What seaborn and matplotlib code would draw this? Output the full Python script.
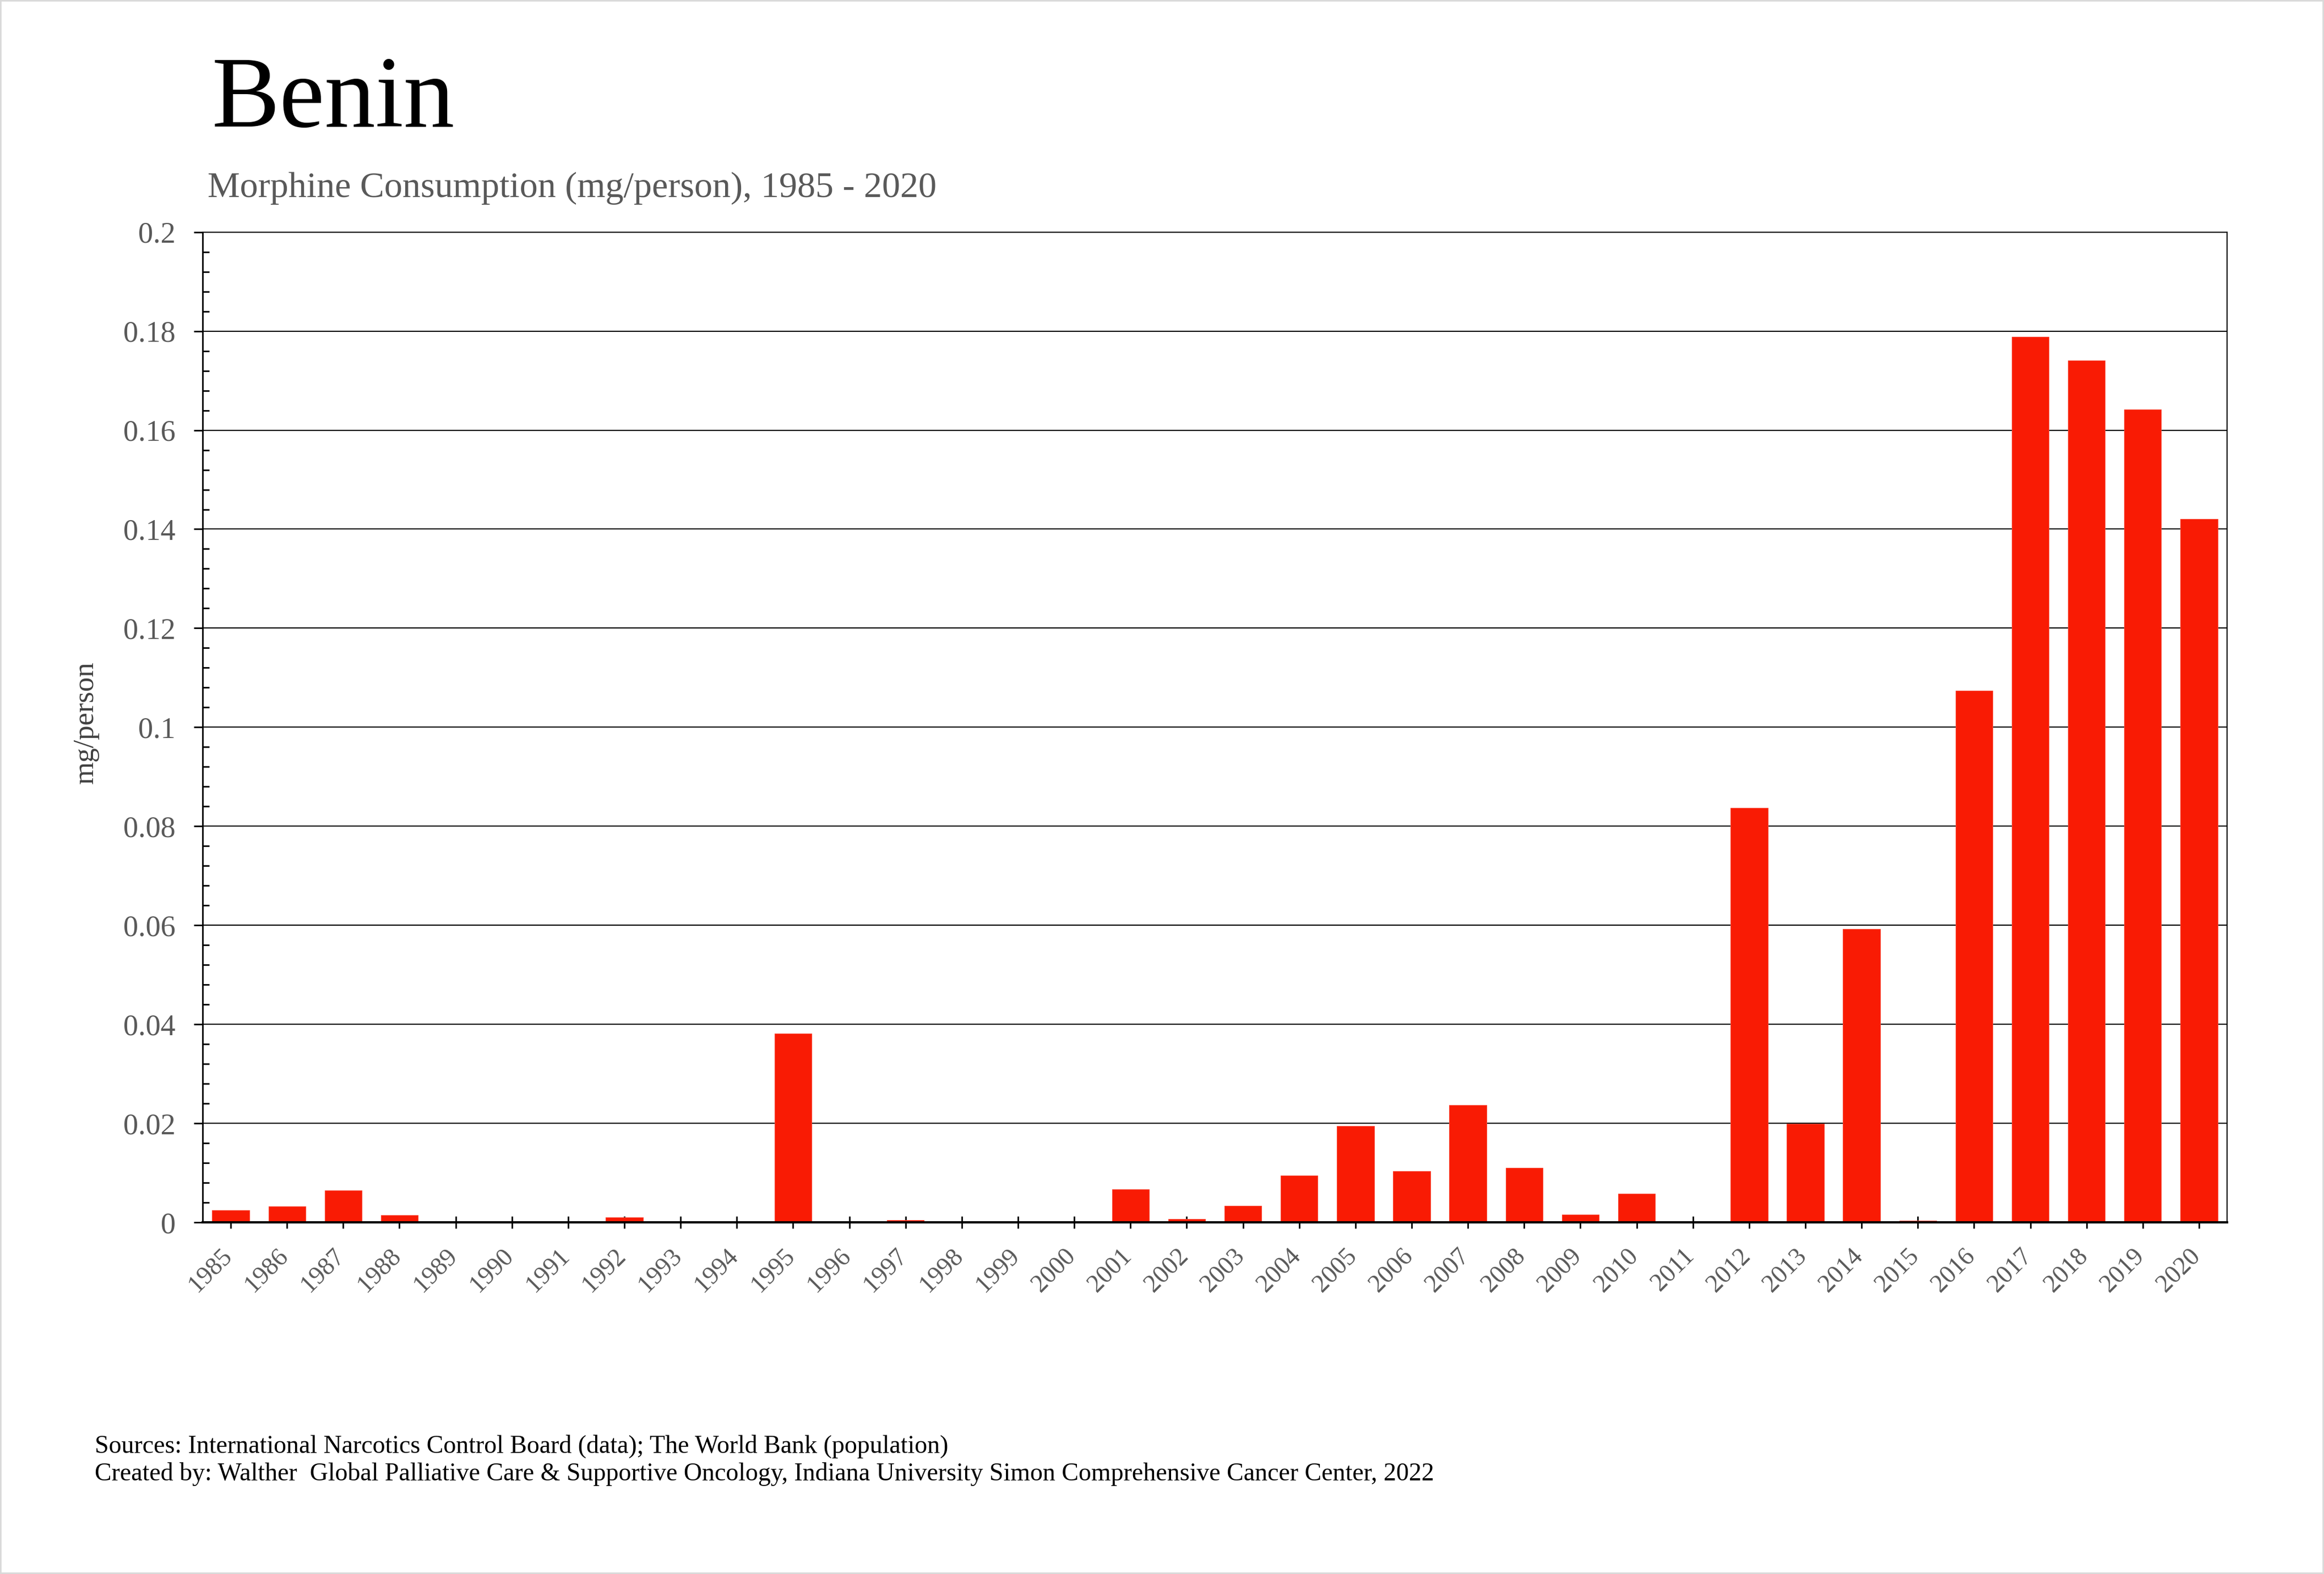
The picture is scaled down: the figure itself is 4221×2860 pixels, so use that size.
import matplotlib
matplotlib.use("Agg")
import matplotlib.pyplot as plt
import seaborn as sns
import pandas as pd
from matplotlib.ticker import AutoMinorLocator, FuncFormatter
from matplotlib.patches import Rectangle
from matplotlib.transforms import ScaledTranslation

years = [str(y) for y in range(1985, 2021)]
values = [0.0025, 0.0032, 0.0064, 0.0015, 0.0, 0.0, 0.0, 0.001, 0.0, 0.0,
          0.0381, 0.0, 0.0004, 0.0, 0.0, 0.0, 0.0067, 0.0007, 0.0033, 0.0094,
          0.0194, 0.0103, 0.0237, 0.0110, 0.0016, 0.0058, 0.0, 0.0837, 0.0199, 0.0592,
          0.0003, 0.1074, 0.1789, 0.1741, 0.1642, 0.1421]
y_ticks = [0, 0.02, 0.04, 0.06, 0.08, 0.1, 0.12, 0.14, 0.16, 0.18, 0.2]

title = "Benin"
subtitle = "Morphine Consumption (mg/person), 1985 - 2020"
y_label = "mg/person"
footer1 = "Sources: International Narcotics Control Board (data); The World Bank (population)"
footer2 = "Created by: Walther  Global Palliative Care & Supportive Oncology, Indiana University Simon Comprehensive Cancer Center, 2022"

sns.set_style("white")
plt.rcParams['font.family'] = ['Liberation Serif', 'DejaVu Serif']

W, H = 4221, 2860
fig = plt.figure(figsize=(W / 100, H / 100), dpi=100)
fig.patch.set_facecolor("white")
ax = fig.add_axes([368 / W, 1 - 2221 / H, (4045 - 368) / W, (2221 - 421.7) / H])

df = pd.DataFrame({"year": years, "value": values})
sns.barplot(data=df, x="year", y="value", color="#F91B04", saturation=1,
            width=0.66, ax=ax, edgecolor="#F94A38", linewidth=0.8)

ax.set_xlim(-0.5, len(years) - 0.5)
ax.set_ylim(0, 0.2)
ax.set_yticks(y_ticks)
ax.yaxis.set_major_formatter(FuncFormatter(lambda v, p: "0" if v == 0 else ("%g" % round(v, 4))))
ax.yaxis.set_minor_locator(AutoMinorLocator(5))
ax.set_xlabel("")
ax.set_ylabel("")

ax.set_axisbelow(True)
ax.yaxis.grid(True, which="major", color="black", linewidth=1.5)
ax.xaxis.grid(False)

for side, lw in [("top", 1.5), ("left", 2.0), ("bottom", 3.0), ("right", 1.5)]:
    ax.spines[side].set_visible(True)
    ax.spines[side].set_color("black")
    ax.spines[side].set_linewidth(lw)

ax.tick_params(axis="y", which="major", direction="out", length=11.5, width=2,
               color="black", labelsize=39, labelcolor="#595959", pad=24, left=True)
ax.tick_params(axis="y", which="minor", direction="in", length=8.5, width=2,
               color="black", left=True)
ax.tick_params(axis="x", which="major", direction="inout", length=16.5, width=2,
               color="black", labelsize=33, labelcolor="#595959", pad=37, bottom=True)
shift = ScaledTranslation(4 / 100, 0, fig.dpi_scale_trans)
for lab in ax.get_xticklabels():
    lab.set_rotation(45)
    lab.set_ha("right")
    lab.set_va("baseline")
    lab.set_rotation_mode("anchor")
    lab.set_transform(lab.get_transform() + shift)

fig.text(385 / W, 1 - 230 / H, title, fontsize=133, color="black", va="baseline", ha="left")
fig.text(377 / W, 1 - 358 / H, subtitle, fontsize=47.5, color="#595959", va="baseline", ha="left")
fig.text(156 / W, 1 - 1313 / H, y_label, rotation=90, fontsize=38, color="#404040",
         ha="center", va="center")
fig.text(172 / W, 1 - 2640 / H, footer1, fontsize=33, color="black", va="baseline", ha="left")
fig.text(172 / W, 1 - 2690 / H, footer2, fontsize=33, color="black", va="baseline", ha="left")

fig.patches.append(Rectangle((0, 0), 1, 1, transform=fig.transFigure, fill=False,
                             edgecolor="#d9d9d9", linewidth=4))

fig.savefig("out.png", dpi=100, facecolor="white")
